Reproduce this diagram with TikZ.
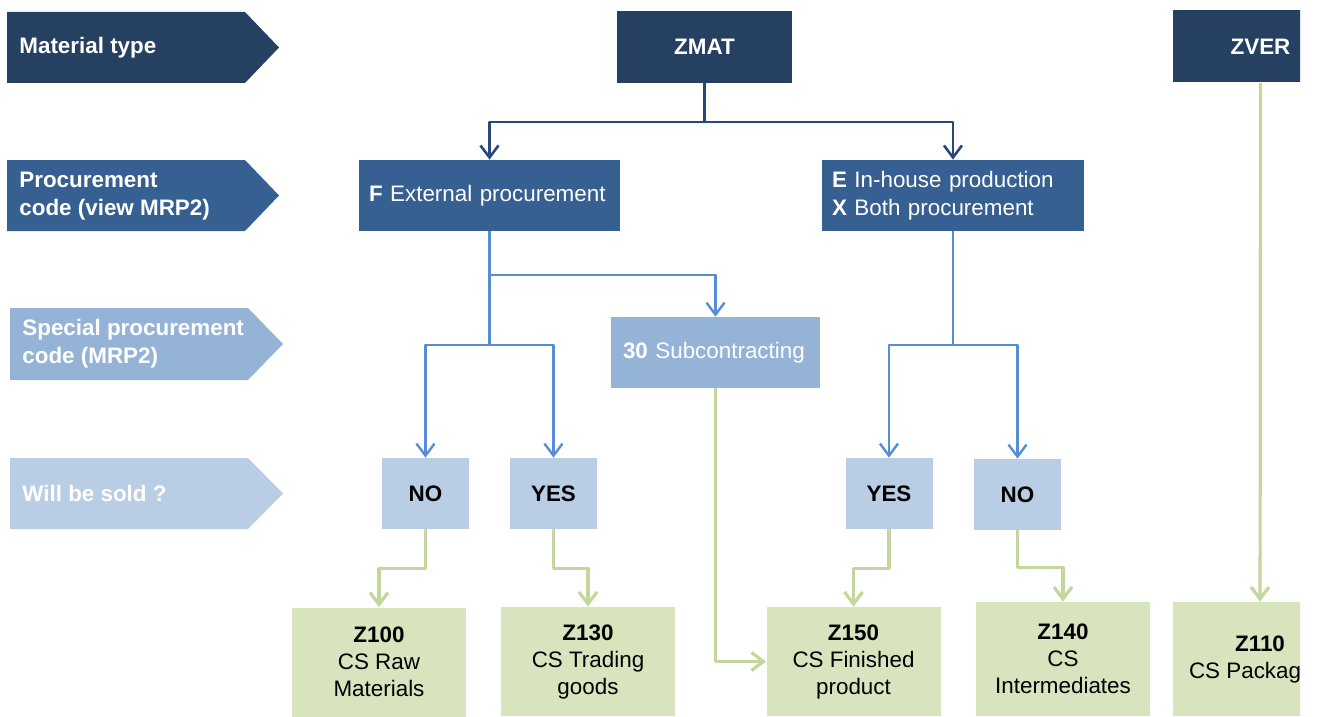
\documentclass[tikz,border=0pt]{standalone}
\usepackage{fontspec}
\setmainfont{Liberation Sans}
\usetikzlibrary{arrows.meta}

\definecolor{navy}{HTML}{254061}
\definecolor{midblue}{HTML}{366092}
\definecolor{lightblue}{HTML}{95B3D7}
\definecolor{paleblue}{HTML}{B9CDE5}
\definecolor{greenfill}{HTML}{D7E4BD}
\definecolor{greenline}{HTML}{C3D69B}
\definecolor{darkline}{HTML}{27497A}
\definecolor{blueline}{HTML}{558ED5}

\tikzset{
	rowlabel/.style={anchor=west, inner sep=0pt, align=left, text=white, font=\bfseries\fontsize{11.2}{14}\selectfont},
	typebox/.style={fill=navy, text=white, minimum width=87.5pt, minimum height=36pt, font=\bfseries\fontsize{11.2}{14}\selectfont},
	codebox/.style={fill=midblue, text=white, align=left, inner xsep=5pt, minimum height=35.5pt, font=\fontsize{11.2}{14}\selectfont},
	soldbox/.style={fill=paleblue, minimum width=43.5pt, minimum height=35.5pt, font=\bfseries\fontsize{11.2}{14}\selectfont},
	zbox/.style={fill=greenfill, align=center, minimum width=87pt, minimum height=54.5pt, font=\fontsize{11.2}{13.5}\selectfont},
	darkarrow/.style={draw=darkline, line width=1.3pt, ->},
	bluearrow/.style={draw=blueline, line width=1.2pt, ->},
	greenarrow/.style={draw=greenline, line width=1.6pt, ->}
}

\begin{document}
\begin{tikzpicture}[x=0.5pt, y=-0.5pt, line join=round, >={Straight Barb[length=6pt,width=9pt]}]
	\useasboundingbox (0,0) rectangle (1317,717);
	\clip (0,0) rectangle (1300,717);

	% row labels
	\fill[navy] (7,12) -- (245,12) -- (279,47.5) -- (245,83) -- (7,83) -- cycle;
	\node[rowlabel] (ltype) at (19,47.5) {Material type};
	\fill[midblue] (7,160) -- (245,160) -- (279,195.5) -- (245,231) -- (7,231) -- cycle;
	\node[rowlabel] (lproc) at (19,196) {Procurement\\code (view MRP2)};
	\fill[lightblue] (10,308) -- (248,308) -- (283,344) -- (248,380) -- (10,380) -- cycle;
	\node[rowlabel] (lspec) at (22,344) {Special procurement\\code (MRP2)};
	\fill[paleblue] (10,458) -- (248,458) -- (283,493.5) -- (248,529) -- (10,529) -- cycle;
	\node[rowlabel] (lsold) at (22,493.5) {Will be sold ?};

	% material types
	\node[typebox] (zmat) at (704.5,47) {ZMAT};
	\node[typebox] (zver) at (1260.5,46.5) {ZVER};

	% procurement codes
	\node[codebox, text width=120.5pt] (fext) at (489.5,195.5) {\textbf{F} External procurement};
	\node[codebox, text width=121pt] (einh) at (953,195.5) {\textbf{E} In-house production\\\textbf{X} Both procurement};
	\node[codebox, fill=lightblue, inner xsep=6pt, text width=92.5pt] (subc) at (715.5,352.5) {\textbf{30} Subcontracting};

	% will be sold
	\node[soldbox] (no1) at (425.5,493.5) {NO};
	\node[soldbox] (yes1) at (553.5,493.5) {YES};
	\node[soldbox] (yes2) at (889,493.5) {YES};
	\node[soldbox] (no2) at (1017.5,494.5) {NO};

	% valuation classes
	\node[zbox] (z100) at (379,662) {\textbf{Z100}\\CS Raw\\Materials};
	\node[zbox] (z130) at (588,661.5) {\textbf{Z130}\\CS Trading\\goods};
	\node[zbox] (z150) at (853.5,661.5) {\textbf{Z150}\\CS Finished\\product};
	\node[zbox, minimum height=57pt] (z140) at (1063,659) {\textbf{Z140}\\CS\\Intermediates};
	\node[zbox, minimum height=57pt] (z110) at (1260,659) {\textbf{Z110}\\CS Packaging};

	% connectors
	\coordinate (ztop) at (704.5,122);
	\draw[darkarrow] (zmat) -- (ztop) -| (fext);
	\draw[darkarrow] (ztop) -| (einh);

	\coordinate (fmid) at (489.5,275);
	\coordinate (flow) at (489.5,345);
	\draw[bluearrow] (fext) -- (fmid) -| (subc);
	\draw[bluearrow] (fmid) -- (flow) -| (no1);
	\draw[bluearrow] (flow) -| (yes1);

	\coordinate (elow) at (953,345);
	\draw[bluearrow] (einh) -- (elow) -| (yes2);
	\draw[bluearrow] (elow) -| (no2);

	\draw[greenarrow] (no1.south) -- ++(0,39) -| (z100);
	\draw[greenarrow] (yes1.south) -- ++(0,39) -| (z130);
	\draw[greenarrow] (subc) |- (z150);
	\draw[greenarrow] (yes2.south) -- ++(0,39) -| (z150);
	\draw[greenarrow] (no2.south) -- ++(0,37) -| (z140);
	\draw[greenarrow] (zver) -- (z110);
\end{tikzpicture}
\end{document}
